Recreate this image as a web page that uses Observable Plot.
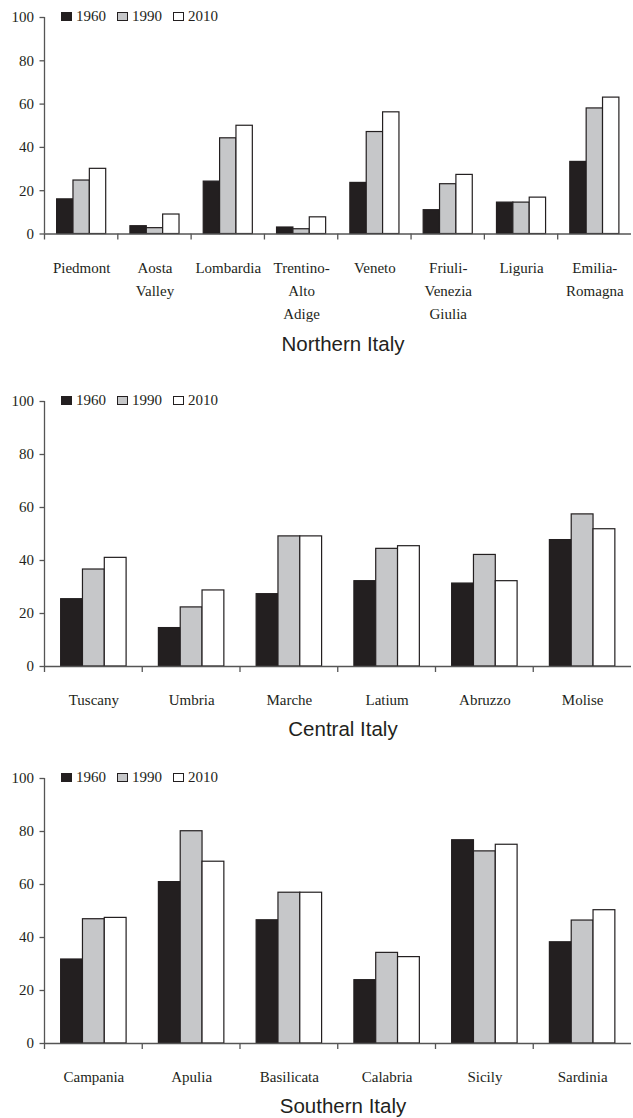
<!DOCTYPE html>
<html>
<head>
<meta charset="utf-8">
<script src="https://cdn.jsdelivr.net/npm/d3@7"></script>
<script src="https://cdn.jsdelivr.net/npm/@observablehq/plot@0.6"></script>
<style>
  body { margin: 0; background: #fff; }
  #page { position: relative; width: 633px; height: 1118px; overflow: hidden; }
  .panel { position: absolute; left: 0; }
  .legend { position: absolute; left: 61px; display: flex; align-items: center;
            font: 15px/15px "Liberation Serif", "Times New Roman", serif; color: #231f20; }
  .legend .item { display: flex; align-items: center; margin-right: 11px; }
  .legend .sw { width: 10.5px; height: 9px; box-sizing: border-box; border: 1.2px solid #231f20; margin-right: 4.5px; }
  .title { position: absolute; left: 243px; width: 200px; text-align: center;
           font: 20.5px/20.5px "Liberation Sans", Arial, sans-serif; color: #231f20; white-space: nowrap; }
</style>
</head>
<body>
<div id="page"></div>
<script>
// Survey years and their bar fills
const years = ["1960", "1990", "2010"];
const yearFill = ["#231f20", "#c6c7c9", "#ffffff"];
const yTicks = [0, 20, 40, 60, 80, 100];

// Northern Italy
const northRegions = ["Piedmont", "Aosta Valley", "Lombardia", "Trentino-Alto Adige", "Veneto", "Friuli-Venezia Giulia", "Liguria", "Emilia-Romagna"];
const northLabels = ["Piedmont", "Aosta\nValley", "Lombardia", "Trentino-\nAlto\nAdige", "Veneto", "Friuli-\nVenezia\nGiulia", "Liguria", "Emilia-\nRomagna"];
const north1960 = [16, 3.6, 24.2, 3, 23.6, 11, 14.5, 33.3];
const north1990 = [24.7, 2.7, 44.2, 2.2, 47.1, 23, 14.5, 58];
const north2010 = [30.1, 9, 50, 7.7, 56.2, 27.3, 16.8, 63];

// Central Italy
const centralRegions = ["Tuscany", "Umbria", "Marche", "Latium", "Abruzzo", "Molise"];
const central1960 = [25.4, 14.5, 27.3, 32.2, 31.3, 47.7];
const central1990 = [36.6, 22.3, 49.1, 44.4, 42.1, 57.4];
const central2010 = [41.0, 28.7, 49.1, 45.4, 32.2, 51.8];

// Southern Italy
const southRegions = ["Campania", "Apulia", "Basilicata", "Calabria", "Sicily", "Sardinia"];
const south1960 = [31.7, 60.9, 46.5, 23.9, 76.7, 38.2];
const south1990 = [46.9, 80.1, 56.9, 34.2, 72.5, 46.4];
const south2010 = [47.4, 68.6, 56.9, 32.6, 75.0, 50.3];

const panels = [
  {title: "Northern Italy", regions: northRegions, labels: northLabels,
   series: [north1960, north1990, north2010], top: 0, plotHeight: 216.5, marginBottom: 100, titleBaseline: 351.7},
  {title: "Central Italy", regions: centralRegions, labels: centralRegions,
   series: [central1960, central1990, central2010], top: 384, plotHeight: 265, marginBottom: 50, titleBaseline: 736.7},
  {title: "Southern Italy", regions: southRegions, labels: southRegions,
   series: [south1960, south1990, south2010], top: 761.3, plotHeight: 265, marginBottom: 50, titleBaseline: 1113}
];

const page = document.getElementById("page");
const serif = '"Liberation Serif", "Times New Roman", serif';
const marginTop = 17, marginLeft = 44.5, marginRight = 2;
const axisColor = "#555";

for (const p of panels) {
  const rows = p.regions.flatMap((region, i) =>
    years.map((year, j) => ({region, label: p.labels[i], year, value: p.series[j][i]})));

  const plot = Plot.plot({
    width: 633,
    height: marginTop + p.plotHeight + p.marginBottom,
    marginTop, marginLeft, marginRight, marginBottom: p.marginBottom,
    style: {fontFamily: serif, fontSize: "15px",
            color: "#231f20", background: "transparent", overflow: "visible"},
    facet: {data: rows, x: "region"},
    fx: {domain: p.regions, padding: 0, round: false, axis: null, label: null},
    x: {domain: years, paddingInner: 0, paddingOuter: 0.74, round: false, axis: null},
    y: {domain: [0, 100]},
    color: {domain: years, range: yearFill},
    marks: [
      Plot.barY(rows, {x: "year", y: "value", fill: "year", stroke: "#231f20", strokeWidth: 1.2}),
      Plot.ruleY([0], {stroke: axisColor, strokeWidth: 1.3}),
      Plot.axisY({ticks: yTicks, tickSize: 5, tickPadding: 6, stroke: axisColor, strokeWidth: 1.3,
                  fill: "#231f20", fontFamily: serif, fontSize: 15, label: null}),
      Plot.text(rows, {filter: (d) => d.year === years[0], text: "label", frameAnchor: "bottom",
                       lineAnchor: "top", dy: 22, lineHeight: 1.55, fill: "#231f20",
                       fontFamily: serif, fontSize: 15})
    ]
  });

  // Vertical axis line and category separator ticks from the plot's own scales
  const fx = plot.scale("fx"), ys = plot.scale("y");
  const band = d3.scaleBand(fx.domain, fx.range);
  const yl = d3.scaleLinear(ys.domain, ys.range);
  const g = d3.select(plot).append("g").attr("stroke", axisColor).attr("stroke-width", 1.3);
  g.append("line")
    .attr("x1", band.range()[0]).attr("x2", band.range()[0])
    .attr("y1", yl(0)).attr("y2", yl(100));
  g.selectAll(null).data(p.regions).join("line")
    .attr("x1", (d) => band(d)).attr("x2", (d) => band(d))
    .attr("y1", yl(0)).attr("y2", yl(0) + 6);

  plot.classList.add("panel");
  plot.style.top = p.top + "px";
  page.appendChild(plot);

  // Legend in the top-left corner of each panel
  const legend = document.createElement("div");
  legend.className = "legend";
  legend.style.top = (p.top + marginTop - 7.9) + "px";
  years.forEach((y, i) => {
    const item = document.createElement("span");
    item.className = "item";
    const sw = document.createElement("span");
    sw.className = "sw";
    sw.style.background = yearFill[i];
    item.appendChild(sw);
    item.appendChild(document.createTextNode(y));
    legend.appendChild(item);
  });
  page.appendChild(legend);

  // Panel caption below the axis
  const title = document.createElement("div");
  title.className = "title";
  title.style.top = (p.titleBaseline - 17.35) + "px";
  title.textContent = p.title;
  page.appendChild(title);
}
</script>
</body>
</html>
